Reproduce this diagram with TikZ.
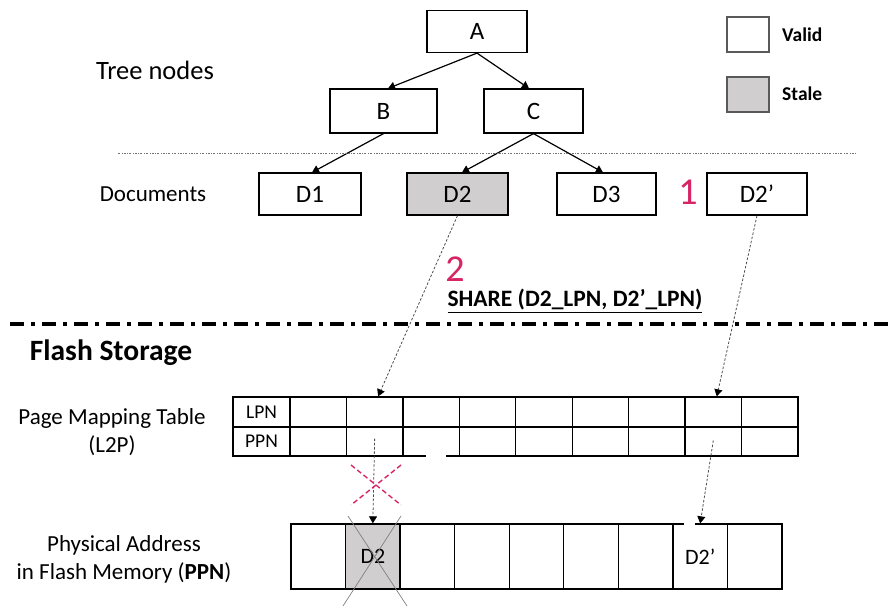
\documentclass[tikz,border=0pt]{standalone}
\usepackage{fontspec}
\setmainfont{Carlito}
\usetikzlibrary{arrows.meta,calc}
\definecolor{stalegray}{RGB}{208,206,206}
\definecolor{mag}{RGB}{214,36,100}
\newcommand\fsz[2]{\fontsize{#1}{#2}\selectfont}
\begin{document}
\begin{tikzpicture}[x=1pt,y=-1pt,
  box/.style={draw=black, line width=1.2pt, minimum width=100pt, minimum height=42pt, inner sep=0pt, font=\fsz{25}{29}},
  stalebox/.style={box, fill=stalegray},
  treearrow/.style={line width=1.2pt, -{Triangle[length=7pt,width=8pt]}},
  dotarrow/.style={draw=black!70, line width=0.8pt, dash pattern=on 2.5pt off 1.8pt, -{Triangle[length=7pt,width=8pt,color=black,fill=black]}},
  cell/.style={draw=black, line width=1.3pt, minimum width=56.44pt, inner sep=0pt},
  mcell/.style={draw=black, line width=1.3pt, minimum width=54.56pt, minimum height=65pt, inner sep=0pt, font=\fsz{22}{26}},
  lbl/.style={inner sep=0pt, font=\fsz{23}{28}, align=center},
  legbox/.style={draw=black!65, line width=1.2pt, minimum width=42pt, minimum height=35pt, inner sep=0pt},
  num/.style={inner sep=0pt, text=mag, font=\fsz{38}{40}}
]
\useasboundingbox (0,0) rectangle (894,607);

% tree nodes
\node[box] (A) at (477,31.5) {A};
\node[box, minimum width=107pt, minimum height=44pt] (B) at (383.5,111) {B};
\node[box, minimum width=99pt, minimum height=44pt] (C) at (533.5,111) {C};
\node[box, minimum width=102pt] (D1) at (310,194) {D1};
\node[stalebox, minimum width=101pt] (D2) at (457.5,194) {D2};
\node[box, minimum width=99pt] (D3) at (606.5,194) {D3};
\node[box] (D2p) at (757,194) {D2’};

\draw[treearrow] (A.south) -- ([xshift=4.5pt]B.north);
\draw[treearrow] (A.south) -- ([xshift=-4.5pt]C.north);
\draw[treearrow] (B.south) -- ([xshift=2pt]D1.north);
\draw[treearrow] (C.south) -- ([xshift=4.5pt]D2.north);
\draw[treearrow] (C.south) -- ([xshift=-3.5pt]D3.north);

% separator lines
\coordinate (s1) at (118,153);
\coordinate (s2) at (857,153);
\draw[black!55, line width=0.7pt, dash pattern=on 2pt off 1.5pt on 0.6pt off 1.5pt] (s1) -- (s2);
\coordinate (t1) at (10,324);
\coordinate (t2) at (894,324);
\draw[black, line width=3.6pt, dash pattern=on 14pt off 7pt on 4pt off 7pt] (t1) -- (t2);

% labels
\node[lbl, font=\fsz{26.5}{30}] (treelbl) at (155,70) {Tree nodes};
\node[lbl] (doclbl) at (153,194) {Documents};
\node[num] (n1) at (688,192) {1};
\node[num] (n2) at (455,269) {2};
\node[inner sep=0pt, font=\fsz{23.5}{27}\bfseries] (share) at (575,301) {\underline{SHARE (D2\_LPN, D2’\_LPN)}};
\node[inner sep=0pt, font=\fsz{29.5}{33}\bfseries] (flash) at (111,353) {Flash Storage};
\node[lbl] (pmt) at (112,432) {Page Mapping Table\\(L2P)};
\node[lbl] (pa) at (124,559) {Physical Address\\in Flash Memory (\textbf{PPN})};

% legend
\node[legbox] (legv) at (748,34.5) {};
\node[legbox, fill=stalegray] (legs) at (748,94.5) {};
\node[anchor=west, inner sep=0pt, font=\fsz{19.5}{23}\bfseries] (legvt) at (782,35) {Valid};
\node[anchor=west, inner sep=0pt, font=\fsz{19.5}{23}\bfseries] (legst) at (782,94) {Stale};

% mapping table
\node[cell, minimum width=57pt, minimum height=30pt, font=\fsz{19.5}{22}] (lpn) at (261.5,412) {LPN};
\node[cell, minimum width=57pt, minimum height=29pt, font=\fsz{19.5}{22}] (ppn) at (261.5,441.5) {PPN};
\foreach \i in {1,...,9} {
  \node[cell, minimum height=30pt] (l\i) at ({290+(\i-0.5)*56.44},412) {};
  \node[cell, minimum height=29pt] (p\i) at ({290+(\i-0.5)*56.44},441.5) {};
}
% white patch (as in reference)
\fill[white] (426,449) rectangle (446,460);

% physical memory row
\foreach \i in {1,...,9} {
  \node[mcell] (m\i) at ({291+(\i-0.5)*54.56},556.5) {};
}
\node[mcell, fill=stalegray] (m2) at ({291+1.5*54.56},556.5) {D2};
\node[mcell] (m8) at ({291+7.5*54.56},556.5) {D2’};
\fill[white] (684,522.5) rectangle (695,525.5);

% crossing lines over stale D2
\coordinate (x1) at (348,516);
\coordinate (x2) at (407,606);
\coordinate (x3) at (401,516);
\coordinate (x4) at (343,606);
\draw[black!50, line width=0.7pt] (x1) -- (x2);
\draw[black!50, line width=0.7pt] (x3) -- (x4);

% mapping connectors
\draw[dotarrow] (D2.south) -- ([xshift=3.5pt]l2.north);
\draw[dotarrow] (D2p.south) -- ([xshift=3.5pt]l8.north);
\draw[dotarrow] ([yshift=3pt]p2.center) -- (m2.north);
\draw[dotarrow] ([yshift=1pt]p8.center) -- (m8.north);

% red dashed cross
\coordinate (r1) at (351,465);
\coordinate (r2) at (401,505);
\coordinate (r3) at (401,465);
\coordinate (r4) at (351,505);
\draw[mag, line width=1.4pt, dash pattern=on 5pt off 3pt] (r1) -- (r2);
\draw[mag, line width=1.4pt, dash pattern=on 5pt off 3pt] (r3) -- (r4);
\end{tikzpicture}
\end{document}
